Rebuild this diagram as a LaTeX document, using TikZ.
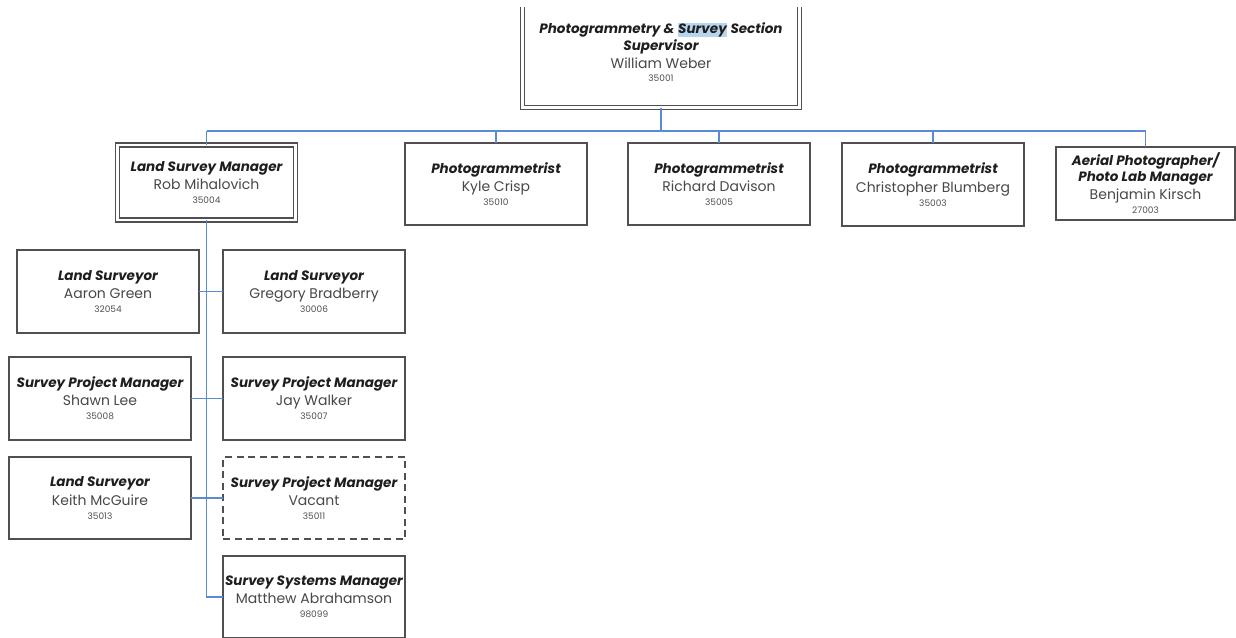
\documentclass[tikz,border=0pt]{standalone}
\usepackage{fontspec}
\setmainfont{Poppins}
\definecolor{boxline}{HTML}{505050}
\definecolor{conncol}{HTML}{5A8AD6}
\definecolor{titlecol}{HTML}{1E1E1E}
\definecolor{namecol}{HTML}{484848}
\definecolor{numcol}{HTML}{505050}
\definecolor{hl}{HTML}{B7D5EF}
\newcommand\tf{\color{titlecol}\fontsize{13.5}{17}\selectfont\bfseries\itshape}
\newcommand\nf{\color{namecol}\fontsize{14}{16}\selectfont}
\newcommand\numf{\color{numcol}\fontsize{9}{11}\selectfont}
\newcommand\card[9][card]{%
  \node[#1, minimum width={#5pt-#3pt}, minimum height={#6pt-#4pt}] (#2) at ({(#3+#5)/2},{(#4+#6)/2})
  {\tf #7\\[3pt]\nf #8\\[2pt]\numf #9};}
\tikzset{
  card/.style={draw=boxline, line width=1.6pt, rectangle, align=center, inner sep=0pt, outer sep=0pt},
  vacantcard/.style={card, dashed, dash pattern=on 7pt off 4.5pt},
  dblcard/.style={rectangle, align=center, inner sep=0pt, outer sep=0pt, draw=boxline, line width=1.4pt, double=white, double distance=2.6pt},
  conn/.style={draw=conncol, line width=1.4pt},
  txt/.style={align=center, inner sep=0pt}
}
\begin{document}
\begin{tikzpicture}[x=1pt,y=-1pt]
\useasboundingbox[fill=white] (0,0) rectangle (1236,637);
\clip (0,7) rectangle (1236,637);
% top supervisor
\node[dblcard, minimum width=277pt, minimum height=130pt] (top) at (661,42.5) {};
\node[txt] (toptext) at (661,52) {\tf Photogrammetry \& {\setlength\fboxsep{0.6pt}\colorbox{hl}{Survey}} Section\\[1pt]\tf Supervisor\\[3pt]\nf William Weber\\[1pt]\numf 35001};
% second level
\card[dblcard]{lsm}{117.5}{145}{295.5}{220}{Land Survey Manager}{Rob Mihalovich}{35004}
\card{kyle}{405}{143}{587}{225}{Photogrammetrist}{Kyle Crisp}{35010}
\card{richard}{628}{143}{810}{225}{Photogrammetrist}{Richard Davison}{35005}
\card{chris}{842}{143}{1024}{226}{Photogrammetrist}{Christopher Blumberg}{35003}
\card{aerial}{1056}{147}{1235}{220}{Aerial Photographer/\\[1pt]\tf Photo Lab Manager}{Benjamin Kirsch}{27003}
% third level
\card{aaron}{17}{250}{199}{333}{Land Surveyor}{Aaron Green}{32054}
\card{greg}{223}{250}{405}{333}{Land Surveyor}{Gregory Bradberry}{30006}
\card{shawn}{9}{357}{191}{440}{Survey Project Manager}{Shawn Lee}{35008}
\card{jay}{223}{357}{405}{440}{Survey Project Manager}{Jay Walker}{35007}
\card{keith}{9}{457}{191}{539}{Land Surveyor}{Keith McGuire}{35013}
\card[vacantcard]{vacant}{223}{457}{405}{539}{Survey Project Manager}{Vacant}{35011}
\card{ssm}{223}{556}{405}{638}{Survey Systems Manager}{Matthew Abrahamson}{98099}
% connectors
\coordinate (busL) at (207,131);
\coordinate (busR) at (1146,131);
\draw[conn] (busL) -- (busR);
\draw[conn] (top.south) -- (top.south |- busL);
\foreach \n in {lsm,kyle,richard,chris,aerial}
  \draw[conn] (\n.north) -- (\n.north |- busL);
\draw[conn] (lsm.south) -- (lsm.south |- ssm.west) -- (ssm.west);
\draw[conn] (aaron.east) -- (greg.west);
\draw[conn] (shawn.east) -- (jay.west);
\draw[conn] (keith.east) -- (vacant.west);
\end{tikzpicture}
\end{document}
